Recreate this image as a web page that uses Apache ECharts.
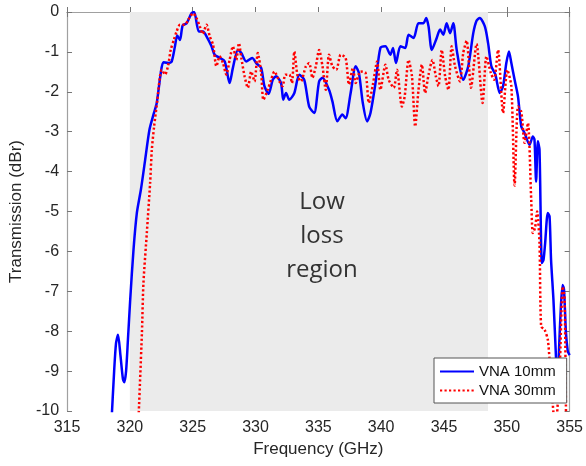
<!DOCTYPE html>
<html>
<head>
<meta charset="utf-8">
<script src="https://cdn.jsdelivr.net/npm/echarts@6/dist/echarts.min.js"></script>
<style>
  html, body { margin: 0; padding: 0; background: #fff; }
  #chart { width: 586px; height: 466px; }
</style>
</head>
<body>
<div id="chart"></div>
<script>
// frequency (GHz) / transmission (dBr)
const blueX = [318.5, 318.75, 318.9, 319.06, 319.25, 319.45, 319.56, 319.7, 319.85, 320.03,
  320.29, 320.56, 320.88, 321.22, 321.56, 321.88, 322.14, 322.46, 322.67, 323.06,
  323.33, 323.59, 323.77, 323.99, 324.2, 324.52, 324.91, 325.12, 325.49, 325.83,
  326.1, 326.5, 326.75, 327.15, 327.55, 327.94, 328.2, 328.6, 328.87, 329.26,
  329.74, 330.05, 330.45, 330.71, 331.05, 331.37, 331.64, 332.03, 332.21, 332.43,
  332.69, 333.09, 333.48, 333.88, 334.27, 334.67, 335.06, 335.33, 335.85, 336.12,
  336.51, 336.91, 337.17, 337.57, 337.97, 338.23, 338.54, 338.88, 339.15, 339.55,
  339.94, 340.34, 340.73, 340.94, 341.18, 341.53, 341.92, 342.18, 342.58, 342.97,
  343.37, 343.58, 343.77, 344.03, 344.42, 344.69, 344.95, 345.21, 345.48, 345.74,
  346.01, 346.53, 346.93, 347.33, 347.59, 347.85, 348.25, 348.51, 348.77, 349.09,
  349.44, 349.7, 349.96, 350.17, 350.36, 350.62, 350.89, 351.15, 351.41, 351.81,
  352.07, 352.2, 352.33, 352.47, 352.6, 352.79, 352.92, 353.05, 353.26, 353.4,
  353.52, 353.71, 353.92, 354.05, 354.15, 354.3, 354.44, 354.55, 354.7, 354.85, 355];
const blueY = [-10.5, -9.0, -8.3, -8.09, -8.6, -9.2, -9.28, -9.0, -8.2, -7.2,
  -5.96, -5.03, -4.45, -3.7, -2.95, -2.57, -2.28, -1.53, -1.26, -1.28,
  -1.24, -0.86, -0.59, -0.7, -0.34, -0.28, -0.03, 0.0, -0.49, -0.49,
  -0.61, -0.86, -1.07, -1.15, -1.24, -1.78, -1.4, -0.95, -1.03, -1.24,
  -1.15, -1.28, -1.4, -1.86, -2.05, -1.7, -1.61, -1.78, -2.2, -2.03,
  -2.2, -2.03, -1.57, -1.7, -2.37, -2.53, -1.74, -1.65, -1.95, -2.24,
  -2.74, -2.57, -2.66, -2.03, -1.36, -1.53, -2.28, -2.74, -2.53, -1.78,
  -0.9, -0.86, -1.07, -0.9, -1.28, -0.86, -0.9, -0.57, -0.65, -0.28,
  -0.28, -0.15, -0.36, -0.95, -0.65, -0.44, -0.57, -0.28, -0.53, -0.28,
  -0.95, -1.7, -1.36, -0.53, -0.22, -0.15, -0.36, -0.78, -1.36, -1.57,
  -2.03, -1.86, -1.28, -0.99, -1.28, -1.7, -2.12, -2.87, -3.03, -3.33,
  -3.12, -3.2, -4.25, -3.24, -3.45, -6.29, -6.21, -5.79, -5.04, -5.12,
  -6.21, -7.21, -8.71, -9.6, -8.5, -7.4, -6.84, -6.95, -8.0, -8.5, -8.6];

const redX = [320.65, 320.96, 321.08, 321.35, 321.61, 321.75, 321.93, 322.19, 322.4, 322.54,
  322.8, 323.06, 323.25, 323.51, 323.72, 323.99, 324.38, 324.65, 325.04, 325.3,
  325.57, 325.8, 326.1, 326.36, 326.62, 326.89, 327.15, 327.41, 327.68, 327.94,
  328.2, 328.47, 328.68, 328.87, 329.13, 329.39, 329.66, 329.92, 330.18, 330.45,
  330.63, 330.97, 331.24, 331.5, 331.9, 332.16, 332.37, 332.69, 332.9, 333.09,
  333.35, 333.61, 334.01, 334.27, 334.53, 334.8, 335.06, 335.33, 335.59, 335.85,
  336.12, 336.43, 336.78, 337.17, 337.44, 337.75, 337.97, 338.36, 338.76, 339.02,
  339.34, 339.68, 339.94, 340.34, 340.6, 341.0, 341.26, 341.65, 341.87, 342.18,
  342.45, 342.71, 342.97, 343.24, 343.5, 343.77, 344.08, 344.35, 344.56, 344.82,
  345.09, 345.35, 345.61, 345.88, 346.27, 346.53, 346.8, 347.15, 347.59, 348.07,
  348.38, 348.73, 348.99, 349.3, 349.7, 350.04, 350.36, 350.62, 350.89, 351.15,
  351.41, 351.68, 351.94, 352.07, 352.25, 352.41, 352.6, 352.73, 353.0, 353.26,
  353.4, 353.65, 353.85, 354.2, 354.45, 354.6, 354.72];
const redY = [-10.5, -8.04, -6.8, -5.54, -4.3, -3.45, -2.87, -2.2, -1.61, -1.45,
  -1.57, -1.32, -0.95, -0.69, -0.49, -0.32, -0.32, -0.19, -0.03, -0.15,
  -0.36, -0.55, -0.32, -0.61, -0.82, -1.36, -1.11, -1.28, -1.57, -1.2,
  -0.86, -1.2, -0.78, -1.15, -1.61, -1.9, -1.49, -1.74, -1.03, -1.53,
  -2.2, -1.95, -1.7, -1.49, -1.74, -1.86, -1.57, -1.57, -1.78, -0.99,
  -1.61, -1.74, -1.36, -1.28, -1.65, -1.36, -0.95, -1.36, -1.95, -1.07,
  -1.36, -1.45, -1.07, -1.15, -1.82, -1.4, -1.78, -1.49, -1.53, -2.28,
  -1.82, -1.24, -1.95, -1.32, -1.7, -1.9, -1.45, -2.37, -2.12, -1.2,
  -1.61, -2.87, -1.95, -1.32, -2.03, -1.57, -1.2, -1.61, -1.86, -0.95,
  -1.61, -1.95, -0.86, -1.36, -1.74, -1.03, -0.72, -1.9, -0.8, -2.28,
  -1.11, -1.53, -1.7, -0.95, -2.53, -1.45, -1.86, -4.35, -2.37, -2.5,
  -3.28, -2.78, -4.7, -5.54, -5.4, -5.0, -5.79, -7.88, -7.96, -8.21,
  -8.71, -9.8, -10.5, -9.0, -6.88, -7.2, -10.5];

const lowLossBand = [320, 348.5];
const seriesNames = ["VNA 10mm", "VNA 30mm"];

const chart = echarts.init(document.getElementById("chart"));

const pairs = (xs, ys) => xs.map((x, i) => [x, ys[i]]);
const font = "'Liberation Sans', Arial, sans-serif";

const axisCommon = {
  type: "value",
  axisLine: { show: true, lineStyle: { color: "#a0a0a0", width: 1.2 } },
  axisTick: { show: true, inside: true, length: 5, lineStyle: { color: "#777" } },
  splitLine: { show: false },
};

chart.setOption({
  backgroundColor: "#fff",
  animation: false,
  grid: { left: 66, right: 14, top: 12, bottom: 55 },
  xAxis: [
    {
      ...axisCommon,
      position: "bottom",
      min: 315,
      max: 355,
      interval: 5,
      name: "Frequency (GHz)",
      nameLocation: "middle",
      nameGap: 29,
      nameTextStyle: { fontSize: 17, color: "#262626", fontFamily: font },
      axisLabel: { fontSize: 16, color: "#262626", margin: 9, fontFamily: font },
    },
    {
      ...axisCommon,
      position: "top",
      min: 315,
      max: 355,
      interval: 5,
      axisLabel: { show: false },
    },
  ],
  yAxis: [
    {
      ...axisCommon,
      position: "left",
      min: -10,
      max: 0,
      interval: 1,
      name: "Transmission (dBr)",
      nameLocation: "middle",
      nameGap: 37,
      nameTextStyle: { fontSize: 17, color: "#262626", fontFamily: font },
      axisLabel: { fontSize: 16, color: "#262626", margin: 8, fontFamily: font },
    },
    {
      ...axisCommon,
      position: "right",
      min: -10,
      max: 0,
      interval: 1,
      axisLabel: { show: false },
    },
  ],
  legend: {
    data: seriesNames,
    orient: "vertical",
    left: 434,
    top: 358,
    z: 10,
    padding: [6, 11, 5, 5],
    itemGap: 4,
    itemWidth: 34,
    itemHeight: 14,
    itemStyle: { opacity: 0 },
    backgroundColor: "#fff",
    borderColor: "#555",
    borderWidth: 1,
    borderRadius: 0,
    textStyle: { fontSize: 15, color: "#111", fontFamily: font },
  },
  graphic: [
    {
      type: "text",
      x: 322,
      y: 236,
      z: 5,
      style: {
        text: "Low\nloss\nregion",
        align: "center",
        verticalAlign: "middle",
        fontSize: 24,
        lineHeight: 34,
        fill: "#333",
        fontFamily: "'Open Sans', 'Noto Sans', sans-serif",
      },
    },
  ],
  series: [
    {
      name: "band",
      type: "line",
      data: [],
      z: 1,
      silent: true,
      markArea: {
        silent: true,
        itemStyle: { color: "#ebebeb", opacity: 1 },
        data: [[{ xAxis: lowLossBand[0] }, { xAxis: lowLossBand[1] }]],
      },
    },
    {
      name: seriesNames[0],
      type: "line",
      data: pairs(blueX, blueY),
      symbol: "none",
      smooth: 0.25,
      z: 2,
      clip: true,
      lineStyle: { color: "#0000ff", width: 2.5 },
      itemStyle: { color: "#0000ff" },
    },
    {
      name: seriesNames[1],
      type: "line",
      data: pairs(redX, redY),
      symbol: "none",
      smooth: 0.25,
      z: 3,
      clip: true,
      lineStyle: { color: "#ff0000", width: 2.5, type: [2.2, 2.3] },
      itemStyle: { color: "#ff0000" },
    },
  ],
});
</script>
</body>
</html>
